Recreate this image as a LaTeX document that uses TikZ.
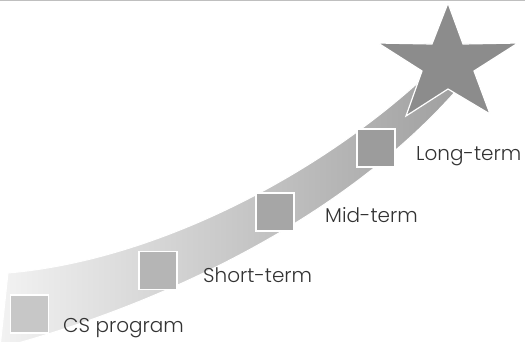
\documentclass[tikz,border=0pt]{standalone}
\usepackage{fontspec}
\setmainfont{Poppins}[UprightFont={* Light}]

\tikzset{
	stufe/.style={draw=white, line width=1.2pt, minimum size=38pt, inner sep=0pt},
	etikett/.style={anchor=base west, inner sep=0pt, text=black!80, font=\fontsize{20}{24}\selectfont},
}

\begin{document}
\begin{tikzpicture}[x=1pt, y=-1pt]
\useasboundingbox (0,0) rectangle (525,341);
% Linie oben
\draw[black!25, line width=1pt] (0,0.5) -- (525,0.5);
% Band zeichnen
\draw[white, line width=1pt, left color=black!5, right color=black!38]
	(8,273) .. controls (160,260) and (330,170) .. (440,62)
	-- (466,52) -- (462,84)
	.. controls (345,220) and (160,305) .. (0,348) -- cycle;
% Stern
\draw[white, line width=1.2pt, fill=black!45, line join=miter]
	(448,3) -- (463,44) -- (518,43) -- (474,71) -- (490,114) -- (448,89)
	-- (406,116) -- (422,71) -- (378,43) -- (432,44) -- cycle;
% Stufen
\node[stufe, fill=black!22] (cs) at (29.5,314) {};
\node[stufe, fill=black!29] (short) at (158,270.5) {};
\node[stufe, fill=black!35] (mid) at (275,212) {};
\node[stufe, fill=black!39] (long) at (376,148) {};
% Beschriftung
\node[etikett] (cslbl) at (63,332.5) {CS program};
\node[etikett] (shortlbl) at (203,282.5) {Short-term};
\node[etikett] (midlbl) at (325,222) {Mid-term};
\node[etikett] (longlbl) at (416,160.5) {Long-term};
\end{tikzpicture}
\end{document}
